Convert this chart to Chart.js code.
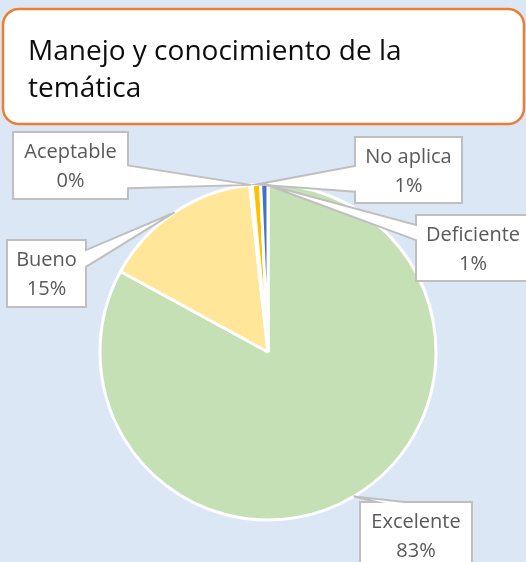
<!DOCTYPE html>
<html><head><meta charset="utf-8">
<script src="https://cdn.jsdelivr.net/npm/chart.js@4"></script>
<style>html,body{margin:0;padding:0;background:#DCE7F6;overflow:hidden}</style>
</head><body>
<canvas id="c" width="526" height="562" style="display:block"></canvas>
<script>
// ---- data ----
const categories = ['Excelente', 'Bueno', 'Aceptable', 'No aplica', 'Deficiente'];
const values = [82.95, 15.3, 0.25, 0.8, 0.7];
const sliceColors = ['#C5E0B4', '#FFE699', '#A5A5A5', '#FFC000', '#4472C4'];
const titleLines = ['Manejo y conocimiento de la', 'temática'];

// ---- layout of callout boxes (style / position only) ----
const calloutLayout = [
  {x: 360, y: 502, w: 112, h: 68, side: 'top',   b1: 0.15, b2: 0.40},
  {x: 7,   y: 240, w: 79,  h: 67, side: 'right', b1: 0.15, b2: 0.40},
  {x: 13,  y: 132, w: 115, h: 67, side: 'right', b1: 0.50, b2: 0.84},
  {x: 355, y: 137, w: 107, h: 66, side: 'left',  b1: 0.44, b2: 0.83},
  {x: 416, y: 215, w: 114, h: 66, side: 'left',  b1: 0.15, b2: 0.38}
];
const BG = '#DCE7F6';

function calloutPath(ctx, b, t) {
  const {x, y, w, h, side, b1, b2} = b;
  ctx.beginPath();
  ctx.moveTo(x, y);
  if (side === 'top') { ctx.lineTo(x + w * b1, y); ctx.lineTo(t.x, t.y); ctx.lineTo(x + w * b2, y); }
  ctx.lineTo(x + w, y);
  if (side === 'right') { ctx.lineTo(x + w, y + h * b1); ctx.lineTo(t.x, t.y); ctx.lineTo(x + w, y + h * b2); }
  ctx.lineTo(x + w, y + h);
  if (side === 'bottom') { ctx.lineTo(x + w * b2, y + h); ctx.lineTo(t.x, t.y); ctx.lineTo(x + w * b1, y + h); }
  ctx.lineTo(x, y + h);
  if (side === 'left') { ctx.lineTo(x, y + h * b2); ctx.lineTo(t.x, t.y); ctx.lineTo(x, y + h * b1); }
  ctx.closePath();
}

const decor = {
  id: 'decor',
  beforeDraw(chart) {
    const ctx = chart.ctx;
    ctx.save();
    ctx.fillStyle = BG;
    ctx.fillRect(0, 0, chart.width, chart.height);
    // title box
    ctx.beginPath();
    ctx.roundRect(3, 9, 521, 115, 16);
    ctx.fillStyle = '#FFFFFF';
    ctx.fill();
    ctx.lineWidth = 2.5;
    ctx.strokeStyle = '#ED7D31';
    ctx.stroke();
    ctx.fillStyle = '#0D0D0D';
    ctx.font = '28px "Open Sans"';
    ctx.textAlign = 'left';
    ctx.textBaseline = 'alphabetic';
    ctx.fillText(titleLines[0], 28, 60);
    ctx.fillText(titleLines[1], 28, 97);
    ctx.restore();
  },
  afterDraw(chart) {
    const ctx = chart.ctx;
    const meta = chart.getDatasetMeta(0);
    const data = chart.data.datasets[0].data;
    const total = data.reduce((a, b) => a + b, 0);
    ctx.save();
    meta.data.forEach((arc, i) => {
      const p = arc.getProps(['x', 'y', 'startAngle', 'endAngle', 'outerRadius'], true);
      const a = (p.startAngle + p.endAngle) / 2;
      const tip = {x: p.x + Math.cos(a) * p.outerRadius, y: p.y + Math.sin(a) * p.outerRadius};
      const b = calloutLayout[i];
      calloutPath(ctx, b, tip);
      ctx.fillStyle = '#FFFFFF';
      ctx.fill();
      ctx.lineWidth = 2;
      ctx.lineJoin = 'miter';
      ctx.strokeStyle = '#BFBFBF';
      ctx.stroke();
      ctx.fillStyle = '#595959';
      ctx.font = '20px "Open Sans"';
      ctx.textAlign = 'center';
      ctx.textBaseline = 'alphabetic';
      const cx = b.x + b.w / 2;
      ctx.fillText(chart.data.labels[i], cx, b.y + 26);
      ctx.fillText(Math.round(data[i] / total * 100) + '%', cx, b.y + 55);
    });
    ctx.restore();
  }
};

new Chart(document.getElementById('c'), {
  type: 'pie',
  data: {
    labels: categories,
    datasets: [{
      data: values,
      backgroundColor: sliceColors,
      borderColor: '#FFFFFF',
      borderWidth: 3,
      radius: 168
    }]
  },
  options: {
    responsive: false,
    devicePixelRatio: 1,
    animation: false,
    layout: {padding: {left: 10, right: 0, top: 160, bottom: 18}},
    plugins: {legend: {display: false}, title: {display: false}, tooltip: {enabled: false}}
  },
  plugins: [decor]
});
</script>
</body></html>
